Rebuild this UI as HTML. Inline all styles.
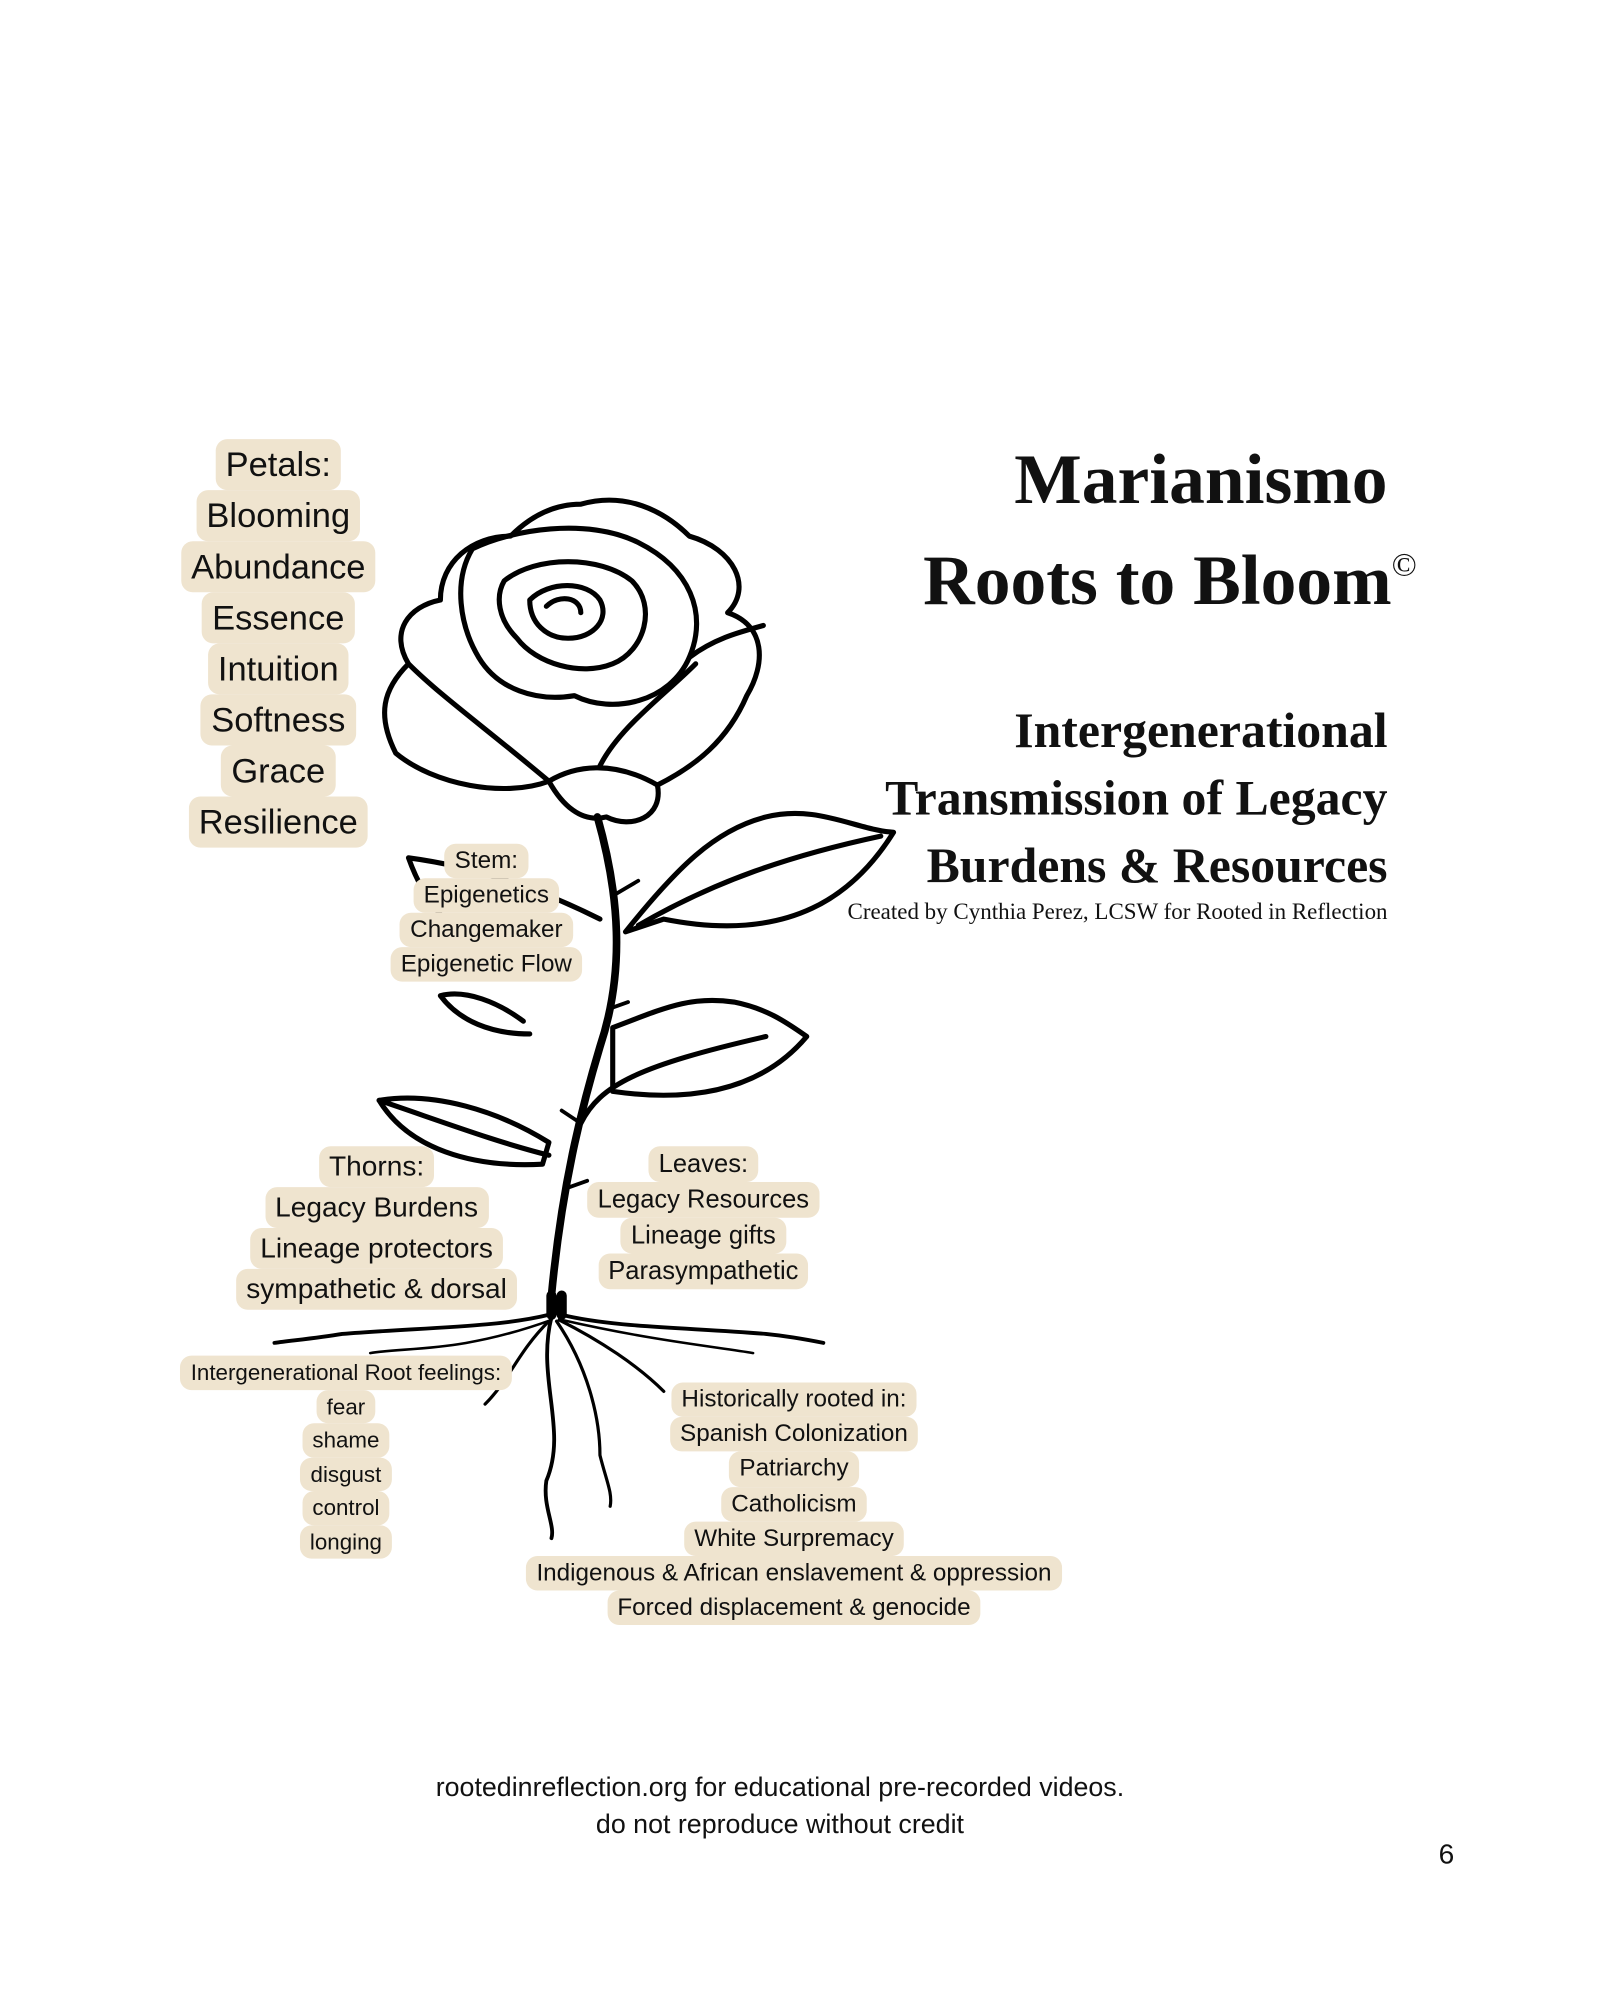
<!DOCTYPE html>
<html><head><meta charset="utf-8">
<style>
html,body{margin:0;padding:0;background:#fff;}
#wrap{width:1254px;height:1568px;position:relative;transform:scale(1.2765);transform-origin:0 0;overflow:hidden;}
.stack{position:absolute;display:flex;flex-direction:column;align-items:center;font-family:"Liberation Sans",sans-serif;color:#111;}
.stack span{background:#efe4cf;border-radius:9px;padding:0 8px;white-space:nowrap;display:block;}
.t{position:absolute;font-family:"Liberation Serif",serif;font-weight:bold;color:#111;white-space:nowrap;text-align:right;}
svg{position:absolute;left:0;top:0;}
</style></head><body><div id="wrap">
<svg width="1254" height="1568" viewBox="0 0 1254 1568" fill="none" stroke="#000" stroke-width="4" stroke-linejoin="round" stroke-linecap="round">
<path d="M455 395 C490 385 520 400 540 420 C575 430 590 460 570 480 C600 490 600 520 585 545 C570 580 545 600 515 615 C520 640 495 650 475 640 C455 645 440 630 430 612 C395 625 340 615 310 590 C295 560 300 540 320 520 C305 495 320 475 345 470 C345 440 370 420 400 420 C420 400 440 395 455 395 Z"/>
<path d="M370 430 C400 415 460 405 500 425 C540 445 555 480 540 515 C525 550 480 560 450 545 C420 550 390 540 375 515 C360 490 355 455 370 430 Z"/>
<path d="M395 455 C420 435 470 435 495 455 C515 475 505 510 480 520 C455 530 420 520 405 500 C390 485 388 467 395 455 Z"/>
<path d="M415 470 C430 455 460 455 470 470 C478 485 465 500 445 500 C428 500 415 488 415 470 Z"/>
<path d="M428 475 C438 465 455 468 455 480"/>
<path d="M540 515 C560 500 580 495 598 490"/>
<path d="M320 520 C345 545 380 570 430 612"/>
<path d="M430 612 C450 600 480 595 515 615"/>
<path d="M470 600 C485 570 520 545 545 520"/>
<path d="M468 640 C485 700 490 760 470 820 C455 870 440 930 432 1015" stroke-width="6"/>
<path d="M483 700 L500 690 M478 790 L492 785 M455 880 L440 870 M446 930 L460 925" stroke-width="3"/>
<path d="M490 730 C530 680 560 650 600 640 C640 630 670 650 700 652 C670 700 620 740 520 720 Z"/>
<path d="M500 725 C560 690 620 670 690 655"/>
<path d="M480 805 C520 790 540 780 575 785 C600 790 615 800 632 812 C600 850 550 865 480 855 Z"/>
<path d="M455 880 C470 850 500 835 600 812"/>
<path d="M430 895 C390 870 340 855 297 862 C320 900 370 915 425 912 Z"/>
<path d="M297 862 C350 880 390 895 430 905"/>
<path d="M410 800 C390 785 365 775 345 780 C360 800 385 810 415 810"/>
<path d="M470 720 C430 700 380 680 320 672 C330 700 345 720 360 730"/>
<path d="M432 1015 L432 1030 M440 1015 L440 1030" stroke-width="8"/>
<path d="M430 1030 C390 1040 330 1040 268 1045 C250 1048 230 1050 215 1052" stroke-width="3"/>
<path d="M440 1030 C480 1040 540 1040 600 1045 C620 1047 635 1050 645 1052" stroke-width="3"/>
<path d="M432 1032 C420 1080 445 1120 428 1160 C425 1180 435 1195 432 1205" stroke-width="3"/>
<path d="M436 1035 C460 1070 470 1110 470 1140 C475 1160 480 1170 478 1180" stroke-width="2.5"/>
<path d="M430 1035 C405 1060 400 1080 380 1100" stroke-width="2.5"/>
<path d="M438 1034 C470 1050 500 1070 520 1090" stroke-width="2.5"/>
<path d="M432 1034 C360 1060 320 1055 290 1060" stroke-width="2"/>
<path d="M440 1034 C510 1050 560 1055 590 1060" stroke-width="2"/>
</svg>

<div class="stack" style="left:118px;top:344px;width:200px;font-size:27px;line-height:40px;">
<span>Petals:</span><span>Blooming</span><span>Abundance</span><span>Essence</span><span>Intuition</span><span>Softness</span><span>Grace</span><span>Resilience</span></div>

<div class="stack" style="left:281px;top:661px;width:200px;font-size:19px;line-height:27px;">
<span>Stem:</span><span>Epigenetics</span><span>Changemaker</span><span>Epigenetic Flow</span></div>

<div class="stack" style="left:145px;top:898px;width:300px;font-size:22px;line-height:32px;">
<span>Thorns:</span><span>Legacy Burdens</span><span>Lineage protectors</span><span>sympathetic &amp; dorsal</span></div>

<div class="stack" style="left:401px;top:898px;width:300px;font-size:20px;line-height:28px;">
<span>Leaves:</span><span>Legacy Resources</span><span>Lineage gifts</span><span>Parasympathetic</span></div>

<div class="stack" style="left:121px;top:1062px;width:300px;font-size:17.5px;line-height:26.5px;">
<span>Intergenerational Root feelings:</span><span>fear</span><span>shame</span><span>disgust</span><span>control</span><span>longing</span></div>

<div class="stack" style="left:372px;top:1083px;width:500px;font-size:19px;line-height:27.2px;">
<span>Historically rooted in:</span><span>Spanish Colonization</span><span>Patriarchy</span><span>Catholicism</span><span>White Surpremacy</span><span>Indigenous &amp; African enslavement &amp; oppression</span><span>Forced displacement &amp; genocide</span></div>

<div class="t" style="right:167px;top:344px;font-size:56px;">Marianismo</div>
<div class="t" style="right:144px;top:423px;font-size:56px;">Roots to Bloom<span style="font-size:26px;vertical-align:22px;font-weight:normal">©</span></div>
<div class="t" style="right:167px;top:550px;font-size:39px;">Intergenerational</div>
<div class="t" style="right:167px;top:603px;font-size:39px;">Transmission of Legacy</div>
<div class="t" style="right:167px;top:656px;font-size:39px;">Burdens &amp; Resources</div>
<div class="t" style="right:167px;top:704px;font-size:18px;font-weight:normal;">Created by Cynthia Perez, LCSW for Rooted in Reflection</div>

<div style="position:absolute;left:0;width:1222px;top:1386px;text-align:center;font-family:'Liberation Sans',sans-serif;font-size:21px;line-height:29px;color:#111;">rootedinreflection.org for educational pre-recorded videos.<br>do not reproduce without credit</div>
<div style="position:absolute;left:1127px;top:1440px;font-family:'Liberation Sans',sans-serif;font-size:22px;color:#111;">6</div>
</div></body></html>
